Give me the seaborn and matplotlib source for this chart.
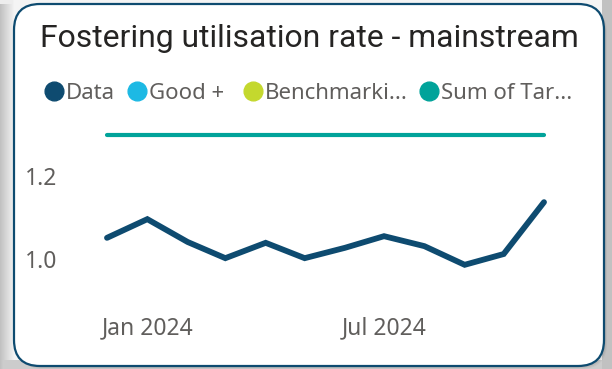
import numpy as np
import pandas as pd
import matplotlib
matplotlib.use("Agg")
import matplotlib.pyplot as plt
import matplotlib.dates as mdates
from matplotlib.patches import FancyBboxPatch
from matplotlib.lines import Line2D
import seaborn as sns

# ---- data -------------------------------------------------------------
months = ["2023-12", "2024-01", "2024-02", "2024-03", "2024-04", "2024-05",
          "2024-06", "2024-07", "2024-08", "2024-09", "2024-10", "2024-11"]
utilisation = [1.051, 1.096, 1.041, 1.002, 1.039, 1.002,
               1.027, 1.055, 1.031, 0.986, 1.012, 1.137]
target = [1.3, 1.3, 1.3, 1.3, 1.3, 1.3, 1.3, 1.3, 1.3, 1.3, 1.3, 1.3]
legend_labels = ["Data", "Good +", "Benchmarki...", "Sum of Tar..."]
y_ticks = [1.0, 1.2]
x_ticks = ["2024-01", "2024-07"]

title = "Fostering utilisation rate - mainstream"

# ---- style ------------------------------------------------------------
C_DATA = "#0E4B70"
C_GOOD = "#1DB9E4"
C_BENCH = "#C4D82E"
C_TARGET = "#01A39A"
C_TEXT = "#605E5C"
C_TITLE = "#252423"
C_BORDER = "#0E4B70"

sns.set_theme(style="white")
plt.rcParams["font.family"] = ["Noto Sans", "DejaVu Sans"]

W, H, DPI = 612, 369, 100
fig = plt.figure(figsize=(W / DPI, H / DPI), dpi=DPI)
fig.patch.set_facecolor("#c8c8c8")

# background layer in pixel units: shadowed canvas and rounded card
bg = fig.add_axes([0, 0, 1, 1], zorder=0)
bg.set_xlim(0, W)
bg.set_ylim(H, 0)
bg.axis("off")
xx = np.linspace(0, 1, W)
shade = np.ones((H, W))
left = np.clip(xx * W / 14.0, 0, 1)
shade *= 0.76 + 0.20 * left[None, :]
shade[:, int(W * 0.985):] = 0.76
shade[360:, :] = np.minimum(shade[360:, :], 0.80)
shade[:4, :560] = np.maximum(shade[:4, :560], 0.93)
bg.imshow(np.dstack([shade] * 3), extent=(0, W, H, 0), aspect="auto",
          interpolation="bilinear", zorder=0)
for i, a in enumerate([0.06, 0.05, 0.04]):
    bg.add_patch(FancyBboxPatch((14 + 1 + i, 4 + 1 + i), 590, 362,
                                boxstyle="round,pad=0,rounding_size=26",
                                fc="black", ec="none", alpha=a, zorder=1))
bg.add_patch(FancyBboxPatch((14, 4), 590, 362,
                            boxstyle="round,pad=0,rounding_size=26",
                            fc="white", ec=C_BORDER, lw=1.6, zorder=2))


def px(x, y):
    return x / W, 1 - y / H


def fit_size(text, width_px, family, base=14, weight="normal"):
    t = fig.text(0, 0, text, fontsize=base, family=family, weight=weight)
    r = fig.canvas.get_renderer()
    w = t.get_window_extent(r).width
    t.remove()
    return base * width_px / w


# title
tfam = ["Liberation Sans Narrow", "Roboto", "DejaVu Sans"]
tsize = fit_size(title, 542, tfam)
fig.text(*px(40, 47), title, fontsize=tsize, family=tfam, color=C_TITLE,
         ha="left", va="baseline", zorder=5)

# legend row
lfam = ["Noto Sans", "DejaVu Sans"]
lsize = fit_size(legend_labels[2], 143, lfam)
leg_colors = [C_DATA, C_GOOD, C_BENCH, C_TARGET]
dot_x = [54, 137, 253, 429]
txt_x = [66, 149, 265, 441]
for c, dx, tx, lab in zip(leg_colors, dot_x, txt_x, legend_labels):
    fig.add_artist(Line2D([dx / W], [1 - 91 / H], marker="o", markersize=13.5,
                          color=c, linestyle="none", transform=fig.transFigure,
                          zorder=5))
    fig.text(*px(tx, 91), lab, fontsize=lsize, family=lfam, color=C_TEXT,
             ha="left", va="center_baseline", zorder=5)

# ---- chart ------------------------------------------------------------
ax = fig.add_axes([107 / W, 1 - 300 / H, 437 / W, 180 / H], zorder=3)
ax.patch.set_alpha(0)

df = pd.DataFrame({"month": pd.to_datetime(months),
                   "Data": utilisation,
                   "Target": target})

sns.lineplot(data=df, x="month", y="Target", ax=ax, color=C_TARGET,
             linewidth=3.0, solid_capstyle="round")
sns.lineplot(data=df, x="month", y="Data", ax=ax, color=C_DATA,
             linewidth=4.2, solid_capstyle="round", solid_joinstyle="miter")
for ln in ax.lines:
    ln.set_clip_on(False)

ax.set_xlim(df["month"].iloc[0], df["month"].iloc[-1])
ax.set_ylim(1 + (259 - 300) / 415, 1 + (259 - 120) / 415)
ax.set_yticks(y_ticks)
ax.set_yticklabels([f"{v:.1f}" for v in y_ticks])
ax.set_xticks(pd.to_datetime(x_ticks))
ax.xaxis.set_major_formatter(mdates.DateFormatter("%b %Y"))
ax.set_xlabel("")
ax.set_ylabel("")
ax.grid(False)
for s in ax.spines.values():
    s.set_visible(False)
tsz = lsize * 1.03
ax.tick_params(axis="y", length=0, pad=36, labelsize=tsz, labelcolor=C_TEXT)
ax.tick_params(axis="x", length=0, pad=12, labelsize=tsz, labelcolor=C_TEXT)

fig.savefig("out.png", dpi=DPI, facecolor=fig.get_facecolor())
